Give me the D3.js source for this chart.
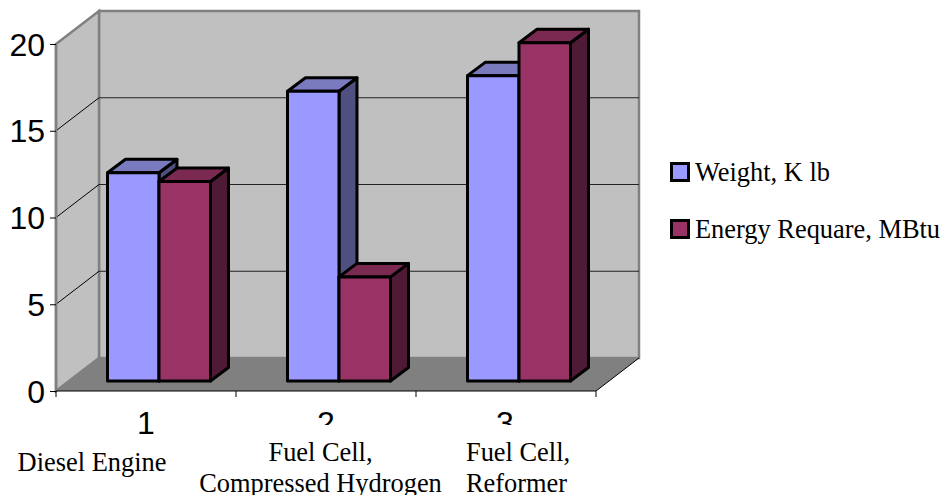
<!DOCTYPE html>
<html><head><meta charset="utf-8">
<script src="https://cdnjs.cloudflare.com/ajax/libs/d3/7.8.5/d3.min.js"></script>
<style>html,body{margin:0;padding:0;background:#fff}svg{display:block}</style>
</head><body><svg id="c" width="944" height="495"></svg>
<script>
const categories = ["1","2","3"];
const categoryNames = [["Diesel Engine"],["Fuel Cell,","Compressed Hydrogen"],["Fuel Cell,","Reformer"]];
const weight = [12.0, 16.7, 17.6];
const energy = [11.5, 6.0, 19.5];
const seriesNames = ["Weight, K lb","Energy Requare, MBtu"];
const yTicks = [0,5,10,15,20];

const svg = d3.select("#c");
const x = d3.scaleBand().domain(categories).range([56,596]);
const y = d3.scaleLinear().domain([0,20]).range([391,44]);
const dx = 43, dy = -33;
const barDx = 22, barDy = -10, depthX = 18, depthY = -13.5, inner = 51.5;
const frontCols = ["#9999FF","#993366"], topCols = ["#7A7ABF","#7A2950"], sideCols = ["#4F4F80","#4F1A36"];
const poly = (pts)=>pts.map(p=>p.join(",")).join(" ");

// walls
svg.append("polygon").attr("points",poly([[x.range()[0]+dx,y(20)+dy],[x.range()[1]+dx,y(20)+dy],[x.range()[1]+dx,y(0)+dy],[x.range()[0]+dx,y(0)+dy]])).attr("fill","#C0C0C0").attr("stroke","#808080").attr("stroke-width",2.5);
svg.append("polygon").attr("points",poly([[56,y(20)],[56+dx,y(20)+dy],[56+dx,y(0)+dy],[56,y(0)]])).attr("fill","#C0C0C0").attr("stroke","#808080").attr("stroke-width",2.5);
svg.append("polygon").attr("points",poly([[56,y(0)],[596,y(0)],[596+dx,y(0)+dy],[56+dx,y(0)+dy]])).attr("fill","#808080");
svg.append("line").attr("x1",596).attr("y1",y(0)).attr("x2",596+dx).attr("y2",y(0)+dy).attr("stroke","#000").attr("stroke-width",1);

// gridlines
yTicks.filter(t=>t>0&&t<20).forEach(t=>{
  svg.append("line").attr("x1",56).attr("y1",y(t)).attr("x2",56+dx).attr("y2",y(t)+dy).attr("stroke","#000").attr("stroke-width",1);
  svg.append("line").attr("x1",56+dx).attr("y1",y(t)+dy).attr("x2",596+dx).attr("y2",y(t)+dy).attr("stroke","#222").attr("stroke-width",1.1);
});

// axes
const yAxis = d3.axisLeft(y).tickValues(yTicks).tickSize(6).tickPadding(5).tickFormat(d3.format("d"));
const gy = svg.append("g").attr("transform","translate(56,0)").call(yAxis);
gy.select(".domain").attr("stroke","#808080").attr("stroke-width",2.5).attr("d",`M0,${y(20)}V${y(0)}`);
gy.selectAll("text").attr("font-family","'Liberation Sans',Arial,sans-serif").attr("font-size",32).attr("fill","#000").attr("dy","0.35em");
gy.selectAll("line").attr("stroke","#000");

svg.append("line").attr("x1",56).attr("x2",596).attr("y1",y(0)).attr("y2",y(0)).attr("stroke","#000").attr("stroke-width",1.2);
[56,...categories.map(c=>x(c)+x.bandwidth())].forEach(v=>{
  svg.append("line").attr("x1",v).attr("x2",v).attr("y1",y(0)).attr("y2",y(0)+6).attr("stroke","#000");
});

// bars
const seriesArr = [weight, energy];
const baseY = y(0)+barDy;
const h = v => y(0)-y(v);
categories.forEach((c,ci)=>{
  [0,1].forEach(si=>{
    const v = seriesArr[si][ci];
    const x0 = x(c)+ (x.bandwidth()-2*inner)/2 + barDx - depthX/2 + si*inner;
    const x1 = x0+inner;
    const top = baseY-h(v);
    const g = svg.append("g").attr("stroke","#000").attr("stroke-width",3).attr("stroke-linejoin","round");
    g.append("polygon").attr("points",poly([[x1,top],[x1+depthX,top+depthY],[x1+depthX,baseY+depthY],[x1,baseY]])).attr("fill",sideCols[si]);
    g.append("polygon").attr("points",poly([[x0,top],[x0+depthX,top+depthY],[x1+depthX,top+depthY],[x1,top]])).attr("fill",topCols[si]);
    g.append("rect").attr("x",x0).attr("y",top).attr("width",inner).attr("height",baseY-top).attr("fill",frontCols[si]);
  });
});

// category numbers; 2 and 3 are cut off at the bottom as in the reference
svg.append("clipPath").attr("id","numClip").append("rect").attr("x",0).attr("y",395).attr("width",944).attr("height",30);
const numX = [146,326,505];
categories.forEach((c,i)=>{
  const t = svg.append("text").attr("x",numX[i]).attr("y",434).attr("text-anchor","middle").attr("font-family","'Liberation Sans',Arial,sans-serif").attr("font-size",32).attr("fill","#000").text(c);
  if(i>0) t.attr("clip-path","url(#numClip)");
});

// category names
const nameSpec = [{x:92,ys:[471]},{x:320.5,ys:[461,492]},{x:466,ys:[461,492]}];
categoryNames.forEach((lines,i)=>{
  lines.forEach((t,j)=>{
    const el = svg.append("text").attr("y",nameSpec[i].ys[j]).attr("font-family","'Liberation Serif','Times New Roman',serif").attr("font-size",26.4).attr("fill","#000").text(t);
    el.attr("x",nameSpec[i].x);
    if(i<2) el.attr("text-anchor","middle");
  });
});

// legend
const legY = [172,229];
seriesNames.forEach((s,i)=>{
  svg.append("rect").attr("x",671.5).attr("y",legY[i]-8.5).attr("width",17).attr("height",17).attr("fill",frontCols[i]).attr("stroke","#000").attr("stroke-width",3);
  svg.append("text").attr("x",695).attr("y",legY[i]+9).attr("font-family","'Liberation Serif','Times New Roman',serif").attr("font-size",26.4).attr("fill","#000").text(s);
});
</script></body></html>
